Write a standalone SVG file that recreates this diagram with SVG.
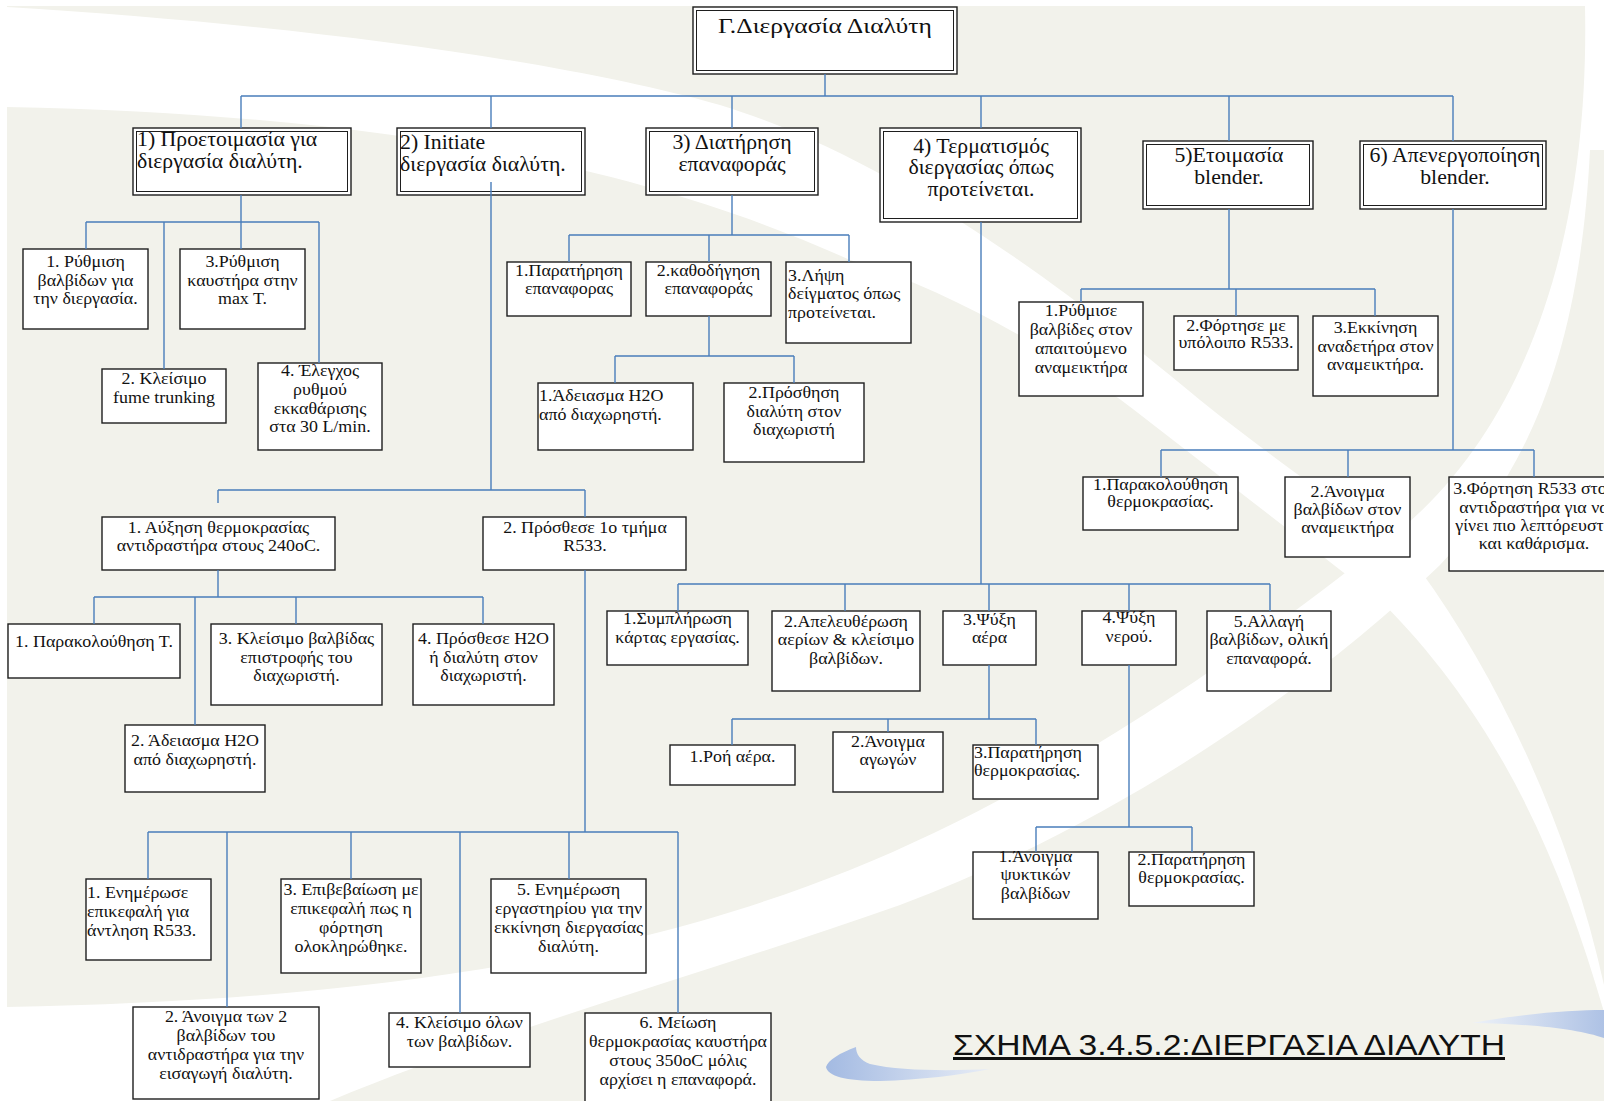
<svg xmlns="http://www.w3.org/2000/svg" width="1604" height="1101" viewBox="0 0 1604 1101">
<defs>
<linearGradient id="gb1" x1="0" y1="0" x2="1" y2="0"><stop offset="0" stop-color="#a3bae2"/><stop offset="1" stop-color="#e8edf6"/></linearGradient>
<linearGradient id="gb2" x1="0" y1="0" x2="1" y2="0"><stop offset="0" stop-color="#eef2f8"/><stop offset="1" stop-color="#aec2e5"/></linearGradient>
</defs>
<style>
.bg{fill:#f2f2eb}
.sw{fill:#ffffff}
.box{fill:#fff;stroke:#1e1e1e;stroke-width:1.4}
.in{fill:none;stroke:#1e1e1e;stroke-width:1}
.c{stroke:#4a7ebb;stroke-width:1.4;fill:none}
text{font-family:"Liberation Serif","Times New Roman",serif;fill:#111;text-anchor:middle}
.t0{font-size:20px}
.t1{font-size:20px}
.t2{font-size:16px}
.l{text-anchor:start}
.cap{font-family:"Liberation Sans",Arial,sans-serif;font-size:30px;text-anchor:start;text-decoration:underline}
</style>
<rect width="1604" height="1101" fill="#fff"/>
<g id="background">
<rect class="bg" x="7" y="6" width="1597" height="1095"/>
<path class="sw" d="M7 7 C300 25 560 60 720 105 C900 160 1080 300 1200 400 C1300 480 1380 530 1420 570 C1500 680 1570 830 1604 985 L1604 1012 C1560 860 1500 720 1380 600 C1300 540 1200 460 1121 400 C1050 350 950 290 850 260 C650 170 400 115 7 107 Z"/>
<path class="sw" d="M1585 6 C1590 250 1520 430 1400 530 C1250 650 1050 790 850 870 C650 950 400 1000 7 1007 L7 1101 L330 1101 C500 1030 700 975 900 905 C1100 830 1300 700 1440 565 C1530 470 1580 350 1590 150 L1604 150 L1604 6 Z"/>
<path fill="url(#gb1)" d="M856 1047 C840 1053 828 1060 826 1067 C828 1076 845 1081 880 1081 C920 1080 960 1075 990 1069 C950 1071 900 1071 870 1064 C860 1060 856 1054 856 1047 Z"/>
<path fill="url(#gb2)" d="M1472 1023 C1520 1014 1570 1010 1604 1010 L1604 1038 C1580 1030 1540 1024 1472 1023 Z"/>
</g>
<g id="nodes">
<g id="n0"><rect class="box" x="693" y="7" width="264" height="67"/><rect class="in" x="696.5" y="10.5" width="257" height="60"/>
<text class="t0" transform="translate(825 0) scale(1.28 1)"><tspan x="0" y="33">Γ.Διεργασία Διαλύτη</tspan></text></g>

<g id="n1"><rect class="box" x="133" y="128" width="218" height="67"/><rect class="in" x="136.5" y="131.5" width="211" height="60"/>
<text class="t1 l" transform="translate(137 0) scale(1.09 1)"><tspan x="0" y="146">1) Προετοιμασία για</tspan><tspan x="0" y="168">διεργασία διαλύτη.</tspan></text></g>
<g id="n2"><rect class="box" x="397" y="128" width="188" height="67"/><rect class="in" x="400.5" y="131.5" width="181" height="60"/>
<text class="t1 l" transform="translate(400 0) scale(1.09 1)"><tspan x="0" y="149">2) Initiate</tspan><tspan x="0" y="171">διεργασία διαλύτη.</tspan></text></g>
<g id="n3"><rect class="box" x="646" y="128" width="172" height="67"/><rect class="in" x="649.5" y="131.5" width="165" height="60"/>
<text class="t1" transform="translate(732 0) scale(1.09 1)"><tspan x="0" y="149">3) Διατήρηση</tspan><tspan x="0" y="171">επαναφοράς</tspan></text></g>
<g id="n4"><rect class="box" x="880" y="128" width="201" height="94"/><rect class="in" x="883.5" y="131.5" width="194" height="87"/>
<text class="t1" transform="translate(981 0) scale(1.09 1)"><tspan x="0" y="153">4) Τερματισμός</tspan><tspan x="0" y="174">διεργασίας όπως</tspan><tspan x="0" y="196">προτείνεται.</tspan></text></g>
<g id="n5"><rect class="box" x="1143" y="141" width="170" height="68"/><rect class="in" x="1146.5" y="144.5" width="163" height="61"/>
<text class="t1" transform="translate(1229 0) scale(1.09 1)"><tspan x="0" y="162">5)Ετοιμασία</tspan><tspan x="0" y="184">blender.</tspan></text></g>
<g id="n6"><rect class="box" x="1360" y="141" width="186" height="68"/><rect class="in" x="1363.5" y="144.5" width="179" height="61"/>
<text class="t1" transform="translate(1455 0) scale(1.09 1)"><tspan x="0" y="162">6) Απενεργοποίηση</tspan><tspan x="0" y="184">blender.</tspan></text></g>

<g id="n1_1"><rect class="box" x="23" y="249" width="125" height="80"/>
<text class="t2" transform="translate(85.5 0) scale(1.12 1)"><tspan x="0" y="267">1. Ρύθμιση</tspan><tspan x="0" y="286">βαλβίδων για</tspan><tspan x="0" y="304">την διεργασία.</tspan></text></g>
<g id="n1_2"><rect class="box" x="102" y="369" width="124" height="54"/>
<text class="t2" transform="translate(164 0) scale(1.12 1)"><tspan x="0" y="384">2. Κλείσιμο</tspan><tspan x="0" y="403">fume trunking</tspan></text></g>
<g id="n1_3"><rect class="box" x="180" y="249" width="125" height="80"/>
<text class="t2" transform="translate(242.5 0) scale(1.12 1)"><tspan x="0" y="267">3.Ρύθμιση</tspan><tspan x="0" y="286">καυστήρα στην</tspan><tspan x="0" y="304">max T.</tspan></text></g>
<g id="n1_4"><rect class="box" x="258" y="363" width="124" height="87"/>
<text class="t2" transform="translate(320 0) scale(1.12 1)"><tspan x="0" y="376">4. Έλεγχος</tspan><tspan x="0" y="395">ρυθμού</tspan><tspan x="0" y="414">εκκαθάρισης</tspan><tspan x="0" y="432">στα 30 L/min.</tspan></text></g>

<g id="n3_1"><rect class="box" x="507" y="262" width="124" height="54"/>
<text class="t2" transform="translate(569 0) scale(1.12 1)"><tspan x="0" y="276">1.Παρατήρηση</tspan><tspan x="0" y="294">επαναφορας</tspan></text></g>
<g id="n3_2"><rect class="box" x="646" y="262" width="125" height="54"/>
<text class="t2" transform="translate(708.5 0) scale(1.12 1)"><tspan x="0" y="276">2.καθοδήγηση</tspan><tspan x="0" y="294">επαναφοράς</tspan></text></g>
<g id="n3_3"><rect class="box" x="786" y="262" width="125" height="81"/>
<text class="t2 l" transform="translate(788 0) scale(1.12 1)"><tspan x="0" y="281">3.Λήψη</tspan><tspan x="0" y="299">δείγματος όπως</tspan><tspan x="0" y="318">προτείνεται.</tspan></text></g>
<g id="n3_2_1"><rect class="box" x="538" y="383" width="155" height="67"/>
<text class="t2 l" transform="translate(539 0) scale(1.12 1)"><tspan x="0" y="401">1.Άδειασμα H2O</tspan><tspan x="0" y="420">από διαχωρηστή.</tspan></text></g>
<g id="n3_2_2"><rect class="box" x="724" y="383" width="140" height="79"/>
<text class="t2" transform="translate(794 0) scale(1.12 1)"><tspan x="0" y="398">2.Πρόσθηση</tspan><tspan x="0" y="417">διαλύτη στον</tspan><tspan x="0" y="435">διαχωριστή</tspan></text></g>

<g id="n4_1"><rect class="box" x="607" y="611" width="141" height="54"/>
<text class="t2" transform="translate(677.5 0) scale(1.12 1)"><tspan x="0" y="624">1.Συμπλήρωση</tspan><tspan x="0" y="643">κάρτας εργασίας.</tspan></text></g>
<g id="n4_2"><rect class="box" x="772" y="611" width="148" height="80"/>
<text class="t2" transform="translate(846 0) scale(1.12 1)"><tspan x="0" y="627">2.Απελευθέρωση</tspan><tspan x="0" y="645">αερίων &amp; κλείσιμο</tspan><tspan x="0" y="664">βαλβίδων.</tspan></text></g>
<g id="n4_3"><rect class="box" x="943" y="611" width="93" height="54"/>
<text class="t2" transform="translate(989.5 0) scale(1.12 1)"><tspan x="0" y="625">3.Ψύξη</tspan><tspan x="0" y="643">αέρα</tspan></text></g>
<g id="n4_4"><rect class="box" x="1082" y="611" width="94" height="54"/>
<text class="t2" transform="translate(1129 0) scale(1.12 1)"><tspan x="0" y="623">4.Ψύξη</tspan><tspan x="0" y="642">νερού.</tspan></text></g>
<g id="n4_5"><rect class="box" x="1207" y="611" width="124" height="80"/>
<text class="t2" transform="translate(1269 0) scale(1.12 1)"><tspan x="0" y="627">5.Αλλαγή</tspan><tspan x="0" y="645">βαλβίδων, ολική</tspan><tspan x="0" y="664">επαναφορά.</tspan></text></g>
<g id="n4_3_1"><rect class="box" x="670" y="745" width="125" height="40"/>
<text class="t2" transform="translate(732.5 0) scale(1.12 1)"><tspan x="0" y="762">1.Ροή αέρα.</tspan></text></g>
<g id="n4_3_2"><rect class="box" x="833" y="732" width="110" height="60"/>
<text class="t2" transform="translate(888 0) scale(1.12 1)"><tspan x="0" y="747">2.Άνοιγμα</tspan><tspan x="0" y="765">αγωγών</tspan></text></g>
<g id="n4_3_3"><rect class="box" x="973" y="745" width="125" height="54"/>
<text class="t2 l" transform="translate(974 0) scale(1.12 1)"><tspan x="0" y="758">3.Παρατήρηση</tspan><tspan x="0" y="776">θερμοκρασίας.</tspan></text></g>
<g id="n4_4_1"><rect class="box" x="973" y="852" width="125" height="67"/>
<text class="t2" transform="translate(1035.5 0) scale(1.12 1)"><tspan x="0" y="862">1.Άνοιγμα</tspan><tspan x="0" y="880">ψυκτικών</tspan><tspan x="0" y="899">βαλβίδων</tspan></text></g>
<g id="n4_4_2"><rect class="box" x="1129" y="852" width="125" height="54"/>
<text class="t2" transform="translate(1191.5 0) scale(1.12 1)"><tspan x="0" y="865">2.Παρατήρηση</tspan><tspan x="0" y="883">θερμοκρασίας.</tspan></text></g>

<g id="n5_1"><rect class="box" x="1019" y="302" width="124" height="94"/>
<text class="t2" transform="translate(1081 0) scale(1.12 1)"><tspan x="0" y="316">1.Ρύθμισε</tspan><tspan x="0" y="335">βαλβίδες στον</tspan><tspan x="0" y="354">απαιτούμενο</tspan><tspan x="0" y="373">αναμεικτήρα</tspan></text></g>
<g id="n5_2"><rect class="box" x="1174" y="316" width="124" height="54"/>
<text class="t2" transform="translate(1236 0) scale(1.12 1)"><tspan x="0" y="331">2.Φόρτησε με</tspan><tspan x="0" y="348">υπόλοιπο R533.</tspan></text></g>
<g id="n5_3"><rect class="box" x="1313" y="316" width="125" height="80"/>
<text class="t2" transform="translate(1375.5 0) scale(1.12 1)"><tspan x="0" y="333">3.Εκκίνηση</tspan><tspan x="0" y="352">αναδετήρα στον</tspan><tspan x="0" y="370">αναμεικτήρα.</tspan></text></g>

<g id="n6_1"><rect class="box" x="1083" y="477" width="155" height="53"/>
<text class="t2" transform="translate(1160.5 0) scale(1.12 1)"><tspan x="0" y="490">1.Παρακολούθηση</tspan><tspan x="0" y="507">θερμοκρασίας.</tspan></text></g>
<g id="n6_2"><rect class="box" x="1285" y="477" width="125" height="80"/>
<text class="t2" transform="translate(1347.5 0) scale(1.12 1)"><tspan x="0" y="497">2.Άνοιγμα</tspan><tspan x="0" y="515">βαλβίδων στον</tspan><tspan x="0" y="533">αναμεικτήρα</tspan></text></g>
<g id="n6_3"><rect class="box" x="1449" y="477" width="171" height="94"/>
<text class="t2" transform="translate(1534 0) scale(1.12 1)"><tspan x="0" y="494">3.Φόρτηση R533 στον</tspan><tspan x="0" y="513">αντιδραστήρα για να</tspan><tspan x="0" y="531">γίνει πιο λεπτόρευστο</tspan><tspan x="0" y="549">και καθάρισμα.</tspan></text></g>

<g id="n2_1"><rect class="box" x="102" y="517" width="233" height="53"/>
<text class="t2" transform="translate(218.5 0) scale(1.12 1)"><tspan x="0" y="533">1. Αύξηση θερμοκρασίας</tspan><tspan x="0" y="551">αντιδραστήρα στους 240oC.</tspan></text></g>
<g id="n2_2"><rect class="box" x="483" y="517" width="203" height="53"/>
<text class="t2" transform="translate(585 0) scale(1.12 1)"><tspan x="0" y="533">2. Πρόσθεσε 1ο τμήμα</tspan><tspan x="0" y="551">R533.</tspan></text></g>
<g id="n2_1_1"><rect class="box" x="8" y="624" width="172" height="54"/>
<text class="t2" transform="translate(94 0) scale(1.12 1)"><tspan x="0" y="647">1. Παρακολούθηση Τ.</tspan></text></g>
<g id="n2_1_2"><rect class="box" x="125" y="725" width="140" height="67"/>
<text class="t2" transform="translate(195 0) scale(1.12 1)"><tspan x="0" y="746">2. Άδειασμα H2O</tspan><tspan x="0" y="765">από διαχωρηστή.</tspan></text></g>
<g id="n2_1_3"><rect class="box" x="211" y="624" width="171" height="81"/>
<text class="t2" transform="translate(296.5 0) scale(1.12 1)"><tspan x="0" y="644">3. Κλείσιμο βαλβίδας</tspan><tspan x="0" y="663">επιστροφής του</tspan><tspan x="0" y="681">διαχωριστή.</tspan></text></g>
<g id="n2_1_4"><rect class="box" x="413" y="624" width="141" height="81"/>
<text class="t2" transform="translate(483.5 0) scale(1.12 1)"><tspan x="0" y="644">4. Πρόσθεσε H2O</tspan><tspan x="0" y="663">ή διαλύτη στον</tspan><tspan x="0" y="681">διαχωριστή.</tspan></text></g>

<g id="n2_2_1"><rect class="box" x="86" y="879" width="125" height="81"/>
<text class="t2 l" transform="translate(87 0) scale(1.12 1)"><tspan x="0" y="898">1. Ενημέρωσε</tspan><tspan x="0" y="917">επικεφαλή για</tspan><tspan x="0" y="936">άντληση R533.</tspan></text></g>
<g id="n2_2_2"><rect class="box" x="133" y="1007" width="186" height="92"/>
<text class="t2" transform="translate(226 0) scale(1.12 1)"><tspan x="0" y="1022">2. Άνοιγμα των 2</tspan><tspan x="0" y="1041">βαλβίδων του</tspan><tspan x="0" y="1060">αντιδραστήρα για την</tspan><tspan x="0" y="1079">εισαγωγή διαλύτη.</tspan></text></g>
<g id="n2_2_3"><rect class="box" x="281" y="879" width="140" height="94"/>
<text class="t2" transform="translate(351 0) scale(1.12 1)"><tspan x="0" y="895">3. Επιβεβαίωση με</tspan><tspan x="0" y="914">επικεφαλή πως η</tspan><tspan x="0" y="933">φόρτηση</tspan><tspan x="0" y="952">ολοκληρώθηκε.</tspan></text></g>
<g id="n2_2_4"><rect class="box" x="389" y="1013" width="141" height="54"/>
<text class="t2" transform="translate(459.5 0) scale(1.12 1)"><tspan x="0" y="1028">4. Κλείσιμο όλων</tspan><tspan x="0" y="1047">των βαλβίδων.</tspan></text></g>
<g id="n2_2_5"><rect class="box" x="491" y="879" width="155" height="94"/>
<text class="t2" transform="translate(568.5 0) scale(1.12 1)"><tspan x="0" y="895">5. Ενημέρωση</tspan><tspan x="0" y="914">εργαστηρίου για την</tspan><tspan x="0" y="933">εκκίνηση διεργασίας</tspan><tspan x="0" y="952">διαλύτη.</tspan></text></g>
<g id="n2_2_6"><rect class="box" x="585" y="1013" width="186" height="100"/>
<text class="t2" transform="translate(678 0) scale(1.12 1)"><tspan x="0" y="1028">6. Μείωση</tspan><tspan x="0" y="1047">θερμοκρασίας καυστήρα</tspan><tspan x="0" y="1066">στους 350oC μόλις</tspan><tspan x="0" y="1085">αρχίσει η επαναφορά.</tspan></text></g>
</g>
<g id="connectors" class="c">
<path d="M825 74V96 M241 96H1453 M241 96V128 M491 96V128 M732 96V128 M981 96V128 M1229 96V141 M1453 96V141
M241 195V222 M86 222H319 M86 222V249 M241 222V249 M164 222V369 M319 222V363
M732 195V235 M569 235H849 M569 235V262 M709 235V262 M849 235V262 M709 316V356 M615 356H794 M615 356V383 M794 356V383
M981 222V584 M678 584H1270 M678 584V611 M845 584V611 M989 584V611 M1129 584V611 M1270 584V611
M989 665V719 M732 719H1036 M732 719V745 M888 719V732 M1036 719V745
M1129 665V827 M1036 827H1192 M1036 827V852 M1192 827V852
M1229 209V289 M1081 289H1375 M1081 289V302 M1236 289V316 M1375 289V316
M1453 209V450 M1161 450H1534 M1161 450V477 M1348 450V477 M1534 450V477
M491 182V490 M218 490H585 M218 490V503 M585 490V517
M218 570V597 M94 597H483 M94 597V624 M296 597V624 M483 597V624 M195 597V725
M585 570V832 M148 832H678 M148 832V879 M351 832V879 M569 832V879 M227 832V1007 M460 832V1013 M678 832V1013"/>
</g>
<text id="caption" class="cap" x="953" y="1055" textLength="552" lengthAdjust="spacingAndGlyphs">ΣΧΗΜΑ 3.4.5.2:ΔΙΕΡΓΑΣΙΑ ΔΙΑΛΥΤΗ</text>
</svg>
